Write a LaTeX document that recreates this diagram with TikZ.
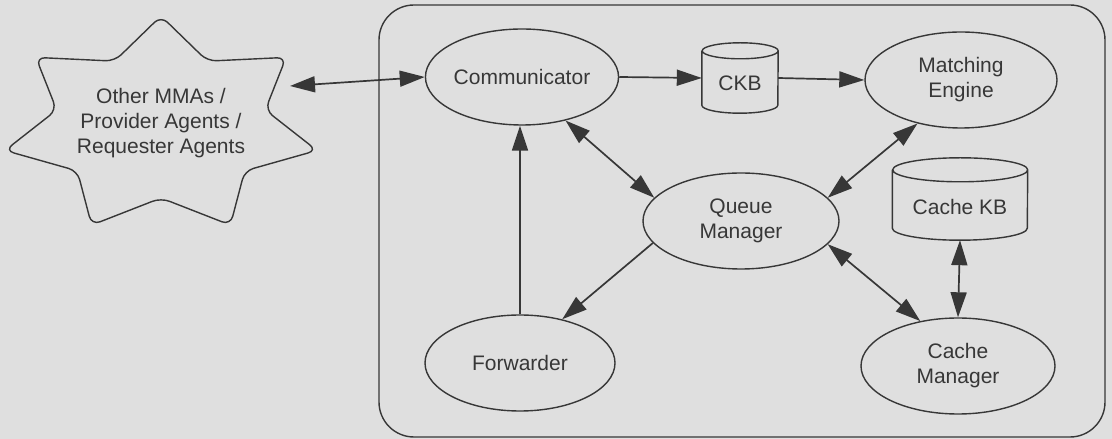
\documentclass[tikz,border=0pt]{standalone}
\usepackage{fontspec}
\setmainfont{Liberation Sans}
\usetikzlibrary{arrows.meta,shapes.geometric}
\definecolor{bg}{RGB}{223,223,223}
\definecolor{ln}{RGB}{55,55,55}
\definecolor{tx}{RGB}{55,55,55}
\newcommand\mycyl[3]{%
  \draw[ln, line width=1.4pt] ([yshift=-#3pt]#1.north west) -- ([yshift=#3pt]#1.south west)
    arc[start angle=180,end angle=360,x radius=#2pt,y radius=#3pt]
    -- ([yshift=-#3pt]#1.north east)
    arc[start angle=0,end angle=180,x radius=#2pt,y radius=#3pt]
    arc[start angle=180,end angle=360,x radius=#2pt,y radius=#3pt];}
\tikzset{bigtip/.tip={Triangle[length=25pt,width=16pt]}}
\begin{document}
\begin{tikzpicture}[x=1pt,y=1pt,
  every node/.style={font=\fontsize{21}{25}\selectfont, text=tx, align=center},
  el/.style={ellipse, draw=ln, line width=1.4pt, inner sep=0pt},
  cylbox/.style={rectangle, inner sep=0pt},
  conn/.style={draw=ln, line width=1.7pt, -bigtip},
  biconn/.style={draw=ln, line width=1.7pt, bigtip-bigtip}
]
\fill[bg] (0,0) rectangle (1112,439);
\useasboundingbox (0,0) rectangle (1112,439);

% frame
\draw[ln, line width=1.4pt, rounded corners=35pt] (379,2) rectangle (1105,434);

% star
\draw[ln, line width=1.4pt, rounded corners=9pt, shift={(161,313)}]
  (90:160 and 110)
  \foreach \a in {0,...,5} { -- ({64.2857-\a*51.4286}:107 and 72) -- ({38.5714-\a*51.4286}:160 and 110) }
  -- ({64.2857-6*51.4286}:107 and 72) -- cycle;
\node (other) at (161,316) {Other MMAs /\\Provider Agents /\\Requester Agents};
\coordinate (starR) at (290,353);

% nodes
\node[el, minimum width=190pt, minimum height=96pt] (comm) at (522,362) {Communicator};
\node[cylbox, minimum width=76pt, minimum height=70pt, text height=25pt, text depth=0pt] (ckb) at (740,361) {CKB};
\mycyl{ckb}{38}{8}
\node[el, minimum width=192pt, minimum height=96pt] (me) at (961,359) {Matching\\Engine};
\node[cylbox, minimum width=135pt, minimum height=82pt, text height=31pt, text depth=0pt] (ckb2) at (960,240) {Cache KB};
\mycyl{ckb2}{67.5}{12}
\node[el, minimum width=196pt, minimum height=96pt] (queue) at (741,218) {Queue\\Manager};
\node[el, minimum width=194pt, minimum height=96pt] (cm) at (958,73) {Cache\\Manager};
\node[el, minimum width=190pt, minimum height=96pt] (fwd) at (520,76) {Forwarder};

% connectors
\draw[biconn] (starR) -- (comm.west);
\draw[conn] (comm.east) -- (ckb.west);
\draw[conn] (ckb.east) -- (me.west);
\draw[biconn] (comm.-45) -- (queue.165);
\draw[biconn] (me.225) -- (queue.15);
\draw[biconn] (queue.-15) -- (cm.130);
\draw[biconn] (ckb2.south) -- (cm.north);
\draw[conn] (queue.194) -- (fwd.46);
\draw[conn] (fwd.north) -- (fwd.north |- comm.south);
\end{tikzpicture}
\end{document}
